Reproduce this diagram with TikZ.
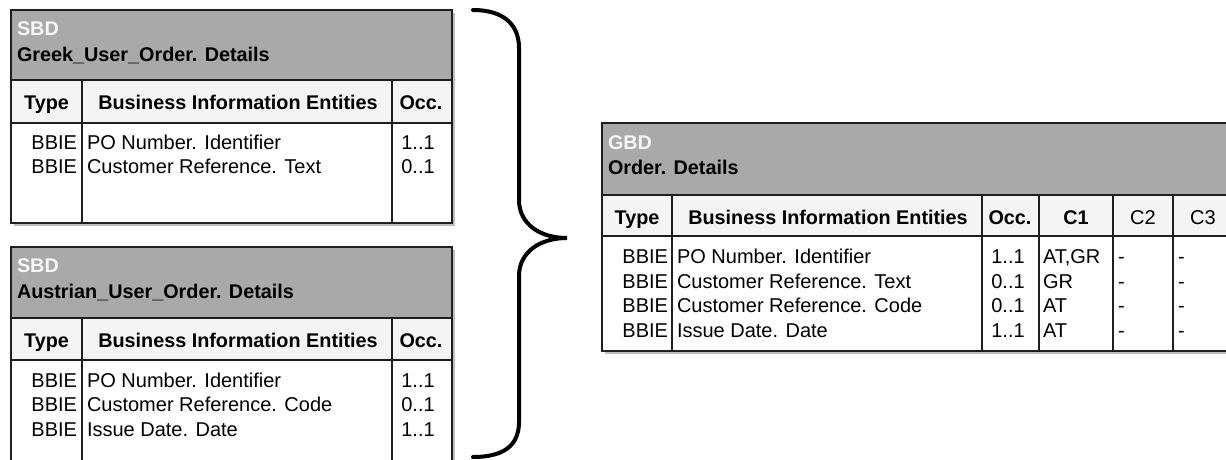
\documentclass[tikz,border=0pt]{standalone}
\usepackage{fontspec}
\setmainfont{Liberation Sans}
\definecolor{hdrgray}{RGB}{169,169,169}
\definecolor{bandgray}{RGB}{244,244,244}
\definecolor{titlewhite}{RGB}{246,246,246}
\definecolor{shadowgray}{RGB}{190,190,190}
\definecolor{rulecol}{RGB}{30,30,30}
\tikzset{
  rule/.style={draw=rulecol, line width=1.2pt},
  shadowbox/.style={fill=shadowgray},
  txt/.style={inner sep=0pt, outer sep=0pt, font=\fontsize{20}{22}\selectfont},
  btxt/.style={inner sep=0pt, outer sep=0pt, font=\fontsize{19.8}{22}\selectfont\bfseries},
  wtxt/.style={btxt, text=titlewhite},
  bracestroke/.style={line width=4pt, line cap=round}
}
\begin{document}
\begin{tikzpicture}[x=1pt, y=-1pt]
\clip (0,0) rectangle (1226,459);
\fill[white] (0,0) rectangle (1226,459);

% ---------- Table 1 ----------
\fill[shadowbox] (14,13) rectangle (455,226);
\fill[hdrgray] (11,10) rectangle (452,80);
\fill[bandgray] (11,80) rectangle (452,123);
\fill[white] (11,123) rectangle (452,223);
\draw[rule] (11,10) rectangle (452,223);
\draw[rule] (11,80) -- (452,80);
\draw[rule] (11,123) -- (452,123);
\draw[rule] (82,80) -- (82,223);
\draw[rule] (392,80) -- (392,223);
\node[wtxt, anchor=base west] (t1k) at (17,35) {SBD};
\node[btxt, anchor=base west] (t1n) at (17,61) {Greek\_User\_Order. Details};
\node[btxt, anchor=base] (t1h1) at (46.5,109) {Type};
\node[btxt, anchor=base] (t1h2) at (238,109) {Business Information Entities};
\node[btxt, anchor=base] (t1h3) at (421,109) {Occ.};
\node[txt, anchor=base east] (t1a1) at (77,149) {BBIE};
\node[txt, anchor=base west] (t1b1) at (87,149) {PO Number. Identifier};
\node[txt, anchor=base] (t1c1) at (418,149) {1..1};
\node[txt, anchor=base east] (t1a2) at (77,173) {BBIE};
\node[txt, anchor=base west] (t1b2) at (87,173) {Customer Reference. Text};
\node[txt, anchor=base] (t1c2) at (418,173) {0..1};

% ---------- Table 2 ----------
\fill[shadowbox] (14,250) rectangle (455,480);
\fill[hdrgray] (11,247) rectangle (452,318);
\fill[bandgray] (11,318) rectangle (452,360);
\fill[white] (11,360) rectangle (452,477);
\draw[rule] (11,247) rectangle (452,477);
\draw[rule] (11,318) -- (452,318);
\draw[rule] (11,360) -- (452,360);
\draw[rule] (82,318) -- (82,477);
\draw[rule] (392,318) -- (392,477);
\node[wtxt, anchor=base west] (t2k) at (17,272) {SBD};
\node[btxt, anchor=base west] (t2n) at (17,298) {Austrian\_User\_Order. Details};
\node[btxt, anchor=base] (t2h1) at (46.5,347) {Type};
\node[btxt, anchor=base] (t2h2) at (238,347) {Business Information Entities};
\node[btxt, anchor=base] (t2h3) at (421,347) {Occ.};
\node[txt, anchor=base east] (t2a1) at (77,387) {BBIE};
\node[txt, anchor=base west] (t2b1) at (87,387) {PO Number. Identifier};
\node[txt, anchor=base] (t2c1) at (418,387) {1..1};
\node[txt, anchor=base east] (t2a2) at (77,411) {BBIE};
\node[txt, anchor=base west] (t2b2) at (87,411) {Customer Reference. Code};
\node[txt, anchor=base] (t2c2) at (418,411) {0..1};
\node[txt, anchor=base east] (t2a3) at (77,436) {BBIE};
\node[txt, anchor=base west] (t2b3) at (87,436) {Issue Date. Date};
\node[txt, anchor=base] (t2c3) at (418,436) {1..1};

% ---------- Table 3 (GBD) ----------
\fill[shadowbox] (605,126) rectangle (1237,354);
\fill[hdrgray] (602,123) rectangle (1234,195);
\fill[bandgray] (602,195) rectangle (1234,236);
\fill[white] (602,236) rectangle (1234,351);
\draw[rule] (602,123) rectangle (1234,351);
\draw[rule] (602,195) -- (1234,195);
\draw[rule] (602,236) -- (1234,236);
\foreach \cx in {672,982,1039,1113,1173} {\draw[rule] (\cx,195) -- (\cx,351);}
\node[wtxt, anchor=base west] (t3k) at (608,149) {GBD};
\node[btxt, anchor=base west] (t3n) at (608,174) {Order. Details};
\node[btxt, anchor=base] (t3h1) at (637,224) {Type};
\node[btxt, anchor=base] (t3h2) at (828,224) {Business Information Entities};
\node[btxt, anchor=base] (t3h3) at (1010,224) {Occ.};
\node[btxt, anchor=base] (t3h4) at (1076,224) {C1};
\node[txt, anchor=base] (t3h5) at (1143,224) {C2};
\node[txt, anchor=base] (t3h6) at (1203,224) {C3};
\node[txt, anchor=base east] (t3a1) at (668,263) {BBIE};
\node[txt, anchor=base west] (t3b1) at (677,263) {PO Number. Identifier};
\node[txt, anchor=base] (t3c1) at (1008,263) {1..1};
\node[txt, anchor=base west] (t3d1) at (1043,263) {AT,GR};
\node[txt, anchor=base west] (t3e1) at (1118,263) {-};
\node[txt, anchor=base west] (t3f1) at (1178,263) {-};
\node[txt, anchor=base east] (t3a2) at (668,288) {BBIE};
\node[txt, anchor=base west] (t3b2) at (677,288) {Customer Reference. Text};
\node[txt, anchor=base] (t3c2) at (1008,288) {0..1};
\node[txt, anchor=base west] (t3d2) at (1043,288) {GR};
\node[txt, anchor=base west] (t3e2) at (1118,288) {-};
\node[txt, anchor=base west] (t3f2) at (1178,288) {-};
\node[txt, anchor=base east] (t3a3) at (668,312) {BBIE};
\node[txt, anchor=base west] (t3b3) at (677,312) {Customer Reference. Code};
\node[txt, anchor=base] (t3c3) at (1008,312) {0..1};
\node[txt, anchor=base west] (t3d3) at (1043,312) {AT};
\node[txt, anchor=base west] (t3e3) at (1118,312) {-};
\node[txt, anchor=base west] (t3f3) at (1178,312) {-};
\node[txt, anchor=base east] (t3a4) at (668,337) {BBIE};
\node[txt, anchor=base west] (t3b4) at (677,337) {Issue Date. Date};
\node[txt, anchor=base] (t3c4) at (1008,337) {1..1};
\node[txt, anchor=base west] (t3d4) at (1043,337) {AT};
\node[txt, anchor=base west] (t3e4) at (1118,337) {-};
\node[txt, anchor=base west] (t3f4) at (1178,337) {-};

% ---------- Brace ----------
\coordinate (bTop) at (473,10);
\coordinate (bUp1) at (519,48);
\coordinate (bUp2) at (519,200);
\coordinate (bTip) at (567,238);
\coordinate (bLo1) at (519,276);
\coordinate (bLo2) at (519,422);
\coordinate (bBot) at (473,457);
\draw[bracestroke]
  (bTop) .. controls (503,10) and (519,24) .. (bUp1)
  -- (bUp2) .. controls (519,224) and (540,238) .. (bTip)
  .. controls (540,238) and (519,252) .. (bLo1)
  -- (bLo2) .. controls (519,446) and (503,457) .. (bBot);
\end{tikzpicture}
\end{document}
